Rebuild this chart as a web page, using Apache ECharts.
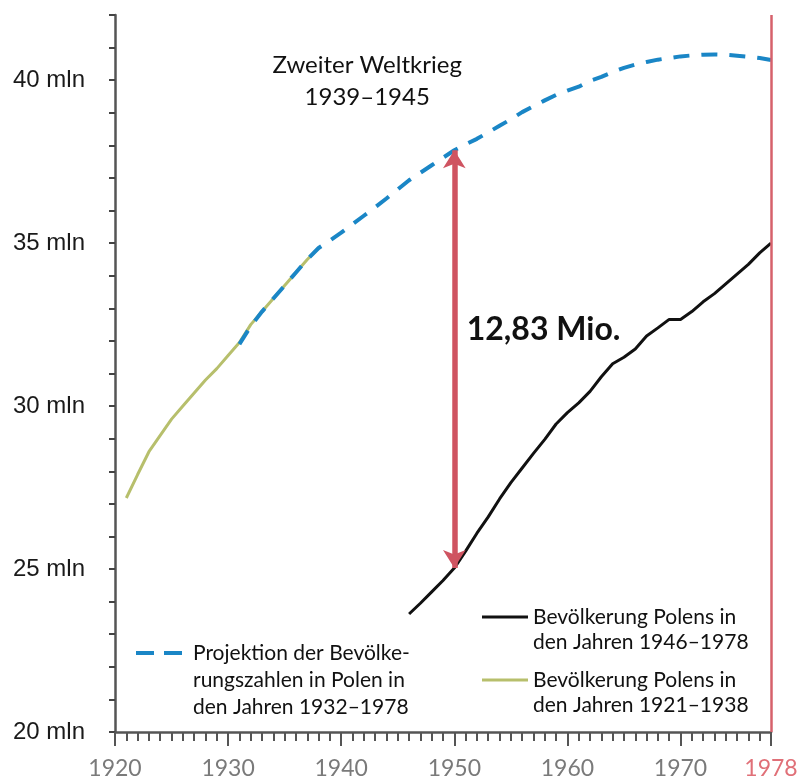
<!DOCTYPE html>
<html><head><meta charset="utf-8">
<script src="https://cdn.jsdelivr.net/npm/echarts@6/dist/echarts.min.js"></script>
<style>html,body{margin:0;padding:0;background:#fff}#c{width:798px;height:778px}</style>
</head><body><div id="c"></div>
<script>
// ---- data ----
const years1921 = [1921,1922,1923,1924,1925,1926,1927,1928,1929,1930,1931,1932,1933,1934,1935,1936,1937,1938];
const pop1921 = [27.18,27.9,28.6,29.1,29.6,30.0,30.4,30.8,31.15,31.55,31.95,32.5,32.9,33.3,33.7,34.1,34.5,34.85];

const years1946 = [1946,1947,1948,1949,1950,1951,1952,1953,1954,1955,1956,1957,1958,1959,1960,1961,1962,1963,1964,1965,1966,1967,1968,1969,1970,1971,1972,1973,1974,1975,1976,1977,1978];
const pop1946 = [23.62,23.95,24.3,24.65,25.03,25.55,26.1,26.6,27.15,27.65,28.1,28.55,28.98,29.45,29.8,30.1,30.45,30.9,31.3,31.5,31.75,32.15,32.4,32.66,32.66,32.9,33.2,33.45,33.75,34.05,34.35,34.7,35.0];

const yearsProj = [1931,1932,1933,1934,1935,1936,1937,1938,1939,1940,1941,1942,1943,1944,1945,1946,1947,1948,1949,1950,1951,1952,1953,1954,1955,1956,1957,1958,1959,1960,1961,1962,1963,1964,1965,1966,1967,1968,1969,1970,1971,1972,1973,1974,1975,1976,1977,1978];
const popProj = [31.9,32.45,32.9,33.3,33.7,34.1,34.5,34.85,35.08,35.32,35.58,35.84,36.1,36.37,36.65,36.93,37.16,37.39,37.62,37.85,38.03,38.2,38.4,38.6,38.8,39.02,39.2,39.38,39.55,39.68,39.8,39.98,40.1,40.25,40.38,40.48,40.56,40.63,40.68,40.73,40.76,40.78,40.79,40.78,40.75,40.72,40.68,40.62];

const xTickLabels = [1920,1930,1940,1950,1960,1970,1978];
const yTickLabels = [20,25,30,35,40];
const gapYear = 1950;
const gapLabel = '12,83 Mio.';
const warLabel = ['Zweiter Weltkrieg','1939–1945'];
const legendProj = 'Projektion der Bevölke-\nrungszahlen in Polen in\nden Jahren 1932–1978';
const legend1946 = 'Bevölkerung Polens in\nden Jahren 1946–1978';
const legend1921 = 'Bevölkerung Polens in\nden Jahren 1921–1938';

// ---- chart ----
const FONT = 'Lato';
const C_BLUE = '#1a86c6', C_OLIVE = '#b7bf6c', C_BLACK = '#111111', C_RED = '#d6616b', C_ARROW = '#cf5461';
const zip = (xs, ys) => xs.map((x, i) => [x, ys[i]]);
const projAtGap = popProj[yearsProj.indexOf(gapYear)];
const actAtGap = pop1946[years1946.indexOf(gapYear)];

const chart = echarts.init(document.getElementById('c'));
chart.setOption({
  animation: false,
  grid: {left: 115, right: 27, top: 15, bottom: 46, containLabel: false, outerBoundsMode: 'none'},
  xAxis: [
    {type: 'value', min: 1920, max: 1978, interval: 1, position: 'bottom',
     axisLine: {show: true, onZero: false, lineStyle: {color: '#555', width: 2.5}},
     axisTick: {show: true, length: 9, lineStyle: {color: '#555', width: 2}},
     axisLabel: {show: false}, splitLine: {show: false}},
    {type: 'value', min: 1920, max: 1978, interval: 10, position: 'bottom',
     axisLine: {show: false, onZero: false},
     axisTick: {show: true, length: 14, lineStyle: {color: '#555', width: 2}},
     axisLabel: {show: true, margin: 25, fontFamily: FONT, fontSize: 23,
       color: v => (v == 1978 ? '#e07078' : '#7a7a7a'),
       formatter: v => (xTickLabels.includes(v) ? String(v) : '')},
     splitLine: {show: false}}
  ],
  yAxis: {type: 'value', min: 20, max: 42, interval: 1,
    axisLine: {show: true, onZero: false, lineStyle: {color: '#555', width: 2.5}},
    axisTick: {show: true, length: 6, lineStyle: {color: '#444', width: 2}},
    axisLabel: {margin: 30, fontFamily: 'Liberation Sans', fontSize: 24, color: '#1a1a1a',
      formatter: v => (yTickLabels.includes(v) ? v + ' mln' : '')},
    splitLine: {show: false}},
  series: [
    {type: 'line', name: 'b1921', data: zip(years1921, pop1921), showSymbol: false,
     lineStyle: {color: C_OLIVE, width: 3}, z: 2},
    {type: 'line', name: 'b1946', data: zip(years1946, pop1946), showSymbol: false,
     lineStyle: {color: C_BLACK, width: 3}, z: 3,
     markLine: {silent: true, symbol: ['none', 'none'], label: {show: false},
       lineStyle: {color: C_RED, width: 2.5, type: 'solid'},
       data: [{xAxis: 1978}]}},
    {type: 'line', name: 'proj', data: zip(yearsProj, popProj), showSymbol: false,
     lineStyle: {color: C_BLUE, width: 4, type: [16, 12], cap: 'butt'}, z: 4,
     markLine: {silent: true, symbol: ['arrow', 'arrow'], symbolSize: [17, 18], label: {show: false},
       lineStyle: {color: C_ARROW, width: 5.5, type: 'solid', opacity: 1},
       data: [[{coord: [gapYear, actAtGap]}, {coord: [gapYear, projAtGap]}]]}}
  ]
});

// annotations placed through the chart's own coordinate system
const pWar = chart.convertToPixel({xAxisIndex: 0, yAxisIndex: 0}, [1942.3, 39.97]);
const pGap = chart.convertToPixel({xAxisIndex: 0, yAxisIndex: 0}, [1951.1, 32.33]);

chart.setOption({
  graphic: [
    {type: 'text', x: pWar[0], y: pWar[1],
     style: {text: warLabel.join('\n'), font: '24px Lato', fill: '#111', align: 'center',
       verticalAlign: 'middle', lineHeight: 32}},
    {type: 'text', x: pGap[0], y: pGap[1],
     style: {text: gapLabel, font: 'bold 32px Lato', fill: '#111', align: 'left', verticalAlign: 'middle'}},
    {type: 'group', x: 136, y: 653, children: [
      {type: 'line', shape: {x1: 0, y1: 0, x2: 46, y2: 0},
       style: {stroke: C_BLUE, lineWidth: 4, lineDash: [18, 10]}},
      {type: 'text', x: 57, y: -13.5,
       style: {text: legendProj, font: '21px Lato', fill: '#111', lineHeight: 27}}]},
    {type: 'group', x: 482, y: 617, children: [
      {type: 'line', shape: {x1: 0, y1: 0, x2: 46, y2: 0}, style: {stroke: C_BLACK, lineWidth: 3}},
      {type: 'text', x: 51, y: -12.5,
       style: {text: legend1946, font: '21px Lato', fill: '#111', lineHeight: 25}}]},
    {type: 'group', x: 482, y: 680, children: [
      {type: 'line', shape: {x1: 0, y1: 0, x2: 46, y2: 0}, style: {stroke: C_OLIVE, lineWidth: 3}},
      {type: 'text', x: 51, y: -12.5,
       style: {text: legend1921, font: '21px Lato', fill: '#111', lineHeight: 25}}]}
  ]
});
</script></body></html>
